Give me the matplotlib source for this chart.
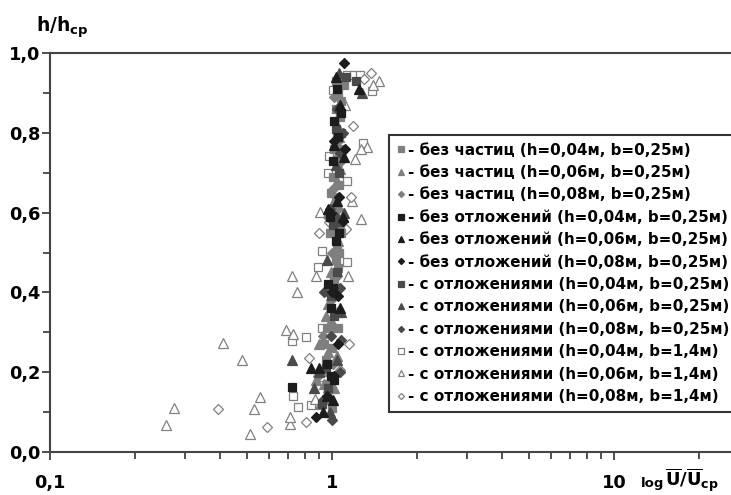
import matplotlib
matplotlib.use('Agg')
import matplotlib.pyplot as plt
from matplotlib.ticker import FixedLocator, FixedFormatter, NullFormatter

plt.rcParams['font.family'] = ['DejaVu Sans']
plt.rcParams['font.weight'] = 'bold'
plt.rcParams['mathtext.fontset'] = 'dejavusans'

# --- data: (U/Ucp, h/hcp) ---
# без частиц, b=0.25
bc04_x = [1.03, 1.07, 1.10, 1.05, 1.08, 1.03, 1.07, 1.04, 1.06, 1.02, 1.04, 1.01, 1.06, 0.99, 1.03, 1.02,
          0.98, 1.02, 1.08, 1.04, 1.06, 1.03, 1.05, 1.02, 0.98, 0.96, 1.00, 1.05, 0.94, 1.00, 0.95, 0.92,
          0.96, 1.00, 0.97]
bc04_y = [0.93, 0.93, 0.92, 0.90, 0.88, 0.86, 0.84, 0.80, 0.76, 0.76, 0.72, 0.69, 0.67, 0.65, 0.64, 0.60,
          0.55, 0.55, 0.55, 0.52, 0.50, 0.48, 0.46, 0.43, 0.40, 0.31, 0.31, 0.31, 0.27, 0.26, 0.23, 0.20,
          0.17, 0.11, 0.13]
bc06_x = [1.04, 1.06, 1.03, 1.07, 1.04, 1.00, 1.03, 1.07, 1.05, 0.99, 1.03, 0.97, 1.04, 0.95, 0.99, 0.90,
          0.97, 1.04, 0.88, 0.94, 1.02, 0.91]
bc06_y = [0.82, 0.79, 0.74, 0.71, 0.68, 0.62, 0.58, 0.57, 0.53, 0.45, 0.42, 0.37, 0.35, 0.34, 0.33, 0.27,
          0.25, 0.24, 0.18, 0.17, 0.16, 0.12]
bc08_x = [1.02, 1.05, 1.08, 1.01, 0.97, 1.05, 1.00, 1.04, 0.99, 0.93, 1.01, 0.89, 0.97]
bc08_y = [0.89, 0.78, 0.73, 0.66, 0.59, 0.61, 0.50, 0.44, 0.38, 0.29, 0.22, 0.19, 0.15]

# без отложений, b=0.25
bo04_x = [1.04, 1.08, 1.02, 1.05, 1.01, 0.98, 1.06, 1.03, 0.97, 1.01, 0.99, 0.72, 0.96, 0.99, 1.02]
bo04_y = [0.91, 0.85, 0.83, 0.79, 0.73, 0.59, 0.55, 0.53, 0.42, 0.41, 0.36, 0.164, 0.22, 0.19, 0.18]
bo06_x = [1.03, 1.25, 1.07, 1.02, 1.10, 0.97, 1.04, 1.09, 1.07, 0.84, 0.90, 0.96, 1.01, 0.93]
bo06_y = [0.94, 0.91, 0.87, 0.77, 0.74, 0.61, 0.63, 0.59, 0.36, 0.21, 0.21, 0.14, 0.13, 0.10]
bo08_x = [1.10, 1.02, 1.11, 1.06, 0.99, 1.09, 1.00, 1.05, 1.05, 1.02, 0.96, 0.88]
bo08_y = [0.974, 0.78, 0.76, 0.64, 0.60, 0.58, 0.40, 0.39, 0.27, 0.19, 0.14, 0.088]

# с отложениями, b=0.25
so04_x = [1.22, 1.12, 1.03, 1.08, 1.06, 1.01, 1.04, 0.99, 1.02, 0.95, 0.97, 0.92]
so04_y = [0.93, 0.94, 0.81, 0.80, 0.70, 0.57, 0.45, 0.39, 0.34, 0.21, 0.16, 0.12]
so06_x = [1.06, 1.28, 1.03, 1.05, 1.10, 0.96, 1.08, 0.72, 0.90, 1.04, 0.86, 0.98]
so06_y = [0.95, 0.90, 0.72, 0.58, 0.60, 0.48, 0.35, 0.23, 0.20, 0.23, 0.16, 0.10]
so08_x = [1.04, 1.09, 1.07, 0.98, 1.03, 0.94, 1.07, 0.99, 1.08, 1.07, 0.93, 1.00]
so08_y = [0.86, 0.80, 0.75, 0.61, 0.59, 0.40, 0.41, 0.29, 0.28, 0.20, 0.13, 0.08]

# с отложениями, b=1.4
sw04_x = [1.01, 1.13, 1.20, 1.26, 1.39, 0.975, 0.97, 1.29, 1.13, 0.92, 0.89, 1.13, 0.92, 0.72, 0.81,
          0.73, 0.84, 0.76, 0.93, 0.97]
sw04_y = [0.907, 0.945, 0.945, 0.945, 0.905, 0.742, 0.70, 0.774, 0.68, 0.504, 0.464, 0.477, 0.31, 0.278,
          0.289, 0.14, 0.118, 0.113, 0.189, 0.30]
sw06_x = [1.47, 1.40, 1.33, 1.27, 1.21, 1.27, 0.91, 0.88, 1.14, 0.72, 0.75, 0.686, 0.73, 0.41, 0.479,
          0.556, 0.275, 0.53, 0.258, 0.51, 0.71, 0.71, 0.87, 1.11, 1.18]
sw06_y = [0.93, 0.92, 0.765, 0.76, 0.734, 0.584, 0.602, 0.44, 0.44, 0.44, 0.40, 0.306, 0.296, 0.274,
          0.23, 0.138, 0.11, 0.108, 0.068, 0.045, 0.07, 0.088, 0.133, 0.87, 0.63]
sw08_x = [1.37, 1.30, 1.19, 1.17, 0.975, 1.12, 0.83, 1.07, 0.81, 0.394, 0.589, 1.15, 0.90]
sw08_y = [0.95, 0.935, 0.817, 0.639, 0.577, 0.56, 0.235, 0.205, 0.076, 0.108, 0.063, 0.27, 0.55]

labels = [
    '- без частиц (h=0,04м, b=0,25м)',
    '- без частиц (h=0,06м, b=0,25м)',
    '- без частиц (h=0,08м, b=0,25м)',
    '- без отложений (h=0,04м, b=0,25м)',
    '- без отложений (h=0,06м, b=0,25м)',
    '- без отложений (h=0,08м, b=0,25м)',
    '- с отложениями (h=0,04м, b=0,25м)',
    '- с отложениями (h=0,06м, b=0,25м)',
    '- с отложениями (h=0,08м, b=0,25м)',
    '- с отложениями (h=0,04м, b=1,4м)',
    '- с отложениями (h=0,06м, b=1,4м)',
    '- с отложениями (h=0,08м, b=1,4м)',
]

series = [(bc04_x, bc04_y), (bc06_x, bc06_y), (bc08_x, bc08_y),
          (bo04_x, bo04_y), (bo06_x, bo06_y), (bo08_x, bo08_y),
          (so04_x, so04_y), (so06_x, so06_y), (so08_x, so08_y),
          (sw04_x, sw04_y), (sw06_x, sw06_y), (sw08_x, sw08_y)]

markers = ['s', '^', 'D'] * 4
gray, black, dark = '#7f7f7f', '#1c1c1c', '#4a4a4a'
faces = [gray] * 3 + [black] * 3 + [dark] * 3 + ['white'] * 3
edges = [gray] * 3 + [black] * 3 + [dark] * 3 + ['#808080'] * 3
msizes = {'s': 6.0, '^': 6.6, 'D': 5.0}

fig = plt.figure(figsize=(7.31, 4.95), dpi=100)
ax = fig.add_axes([50 / 731, 1 - 452 / 495, 1 - 50 / 731, (452 - 53) / 495])

# open markers first, filled column on top
order = [9, 10, 11, 0, 1, 2, 6, 7, 8, 3, 4, 5]
handles = [None] * 12
for i in order:
    x, y = series[i]
    h, = ax.plot(x, y, linestyle='none', marker=markers[i], markersize=msizes[markers[i]],
                 markerfacecolor=faces[i], markeredgecolor=edges[i], markeredgewidth=0.9,
                 label=labels[i])
    handles[i] = h

ax.set_xscale('log')
ax.set_xlim(0.1, 26)
ax.set_ylim(0, 1.0)

ax.xaxis.set_major_locator(FixedLocator([0.1, 1, 10]))
ax.xaxis.set_major_formatter(FixedFormatter(['0,1', '1', '10']))
ax.xaxis.set_minor_locator(FixedLocator([k * 0.1 for k in range(2, 10)] + list(range(2, 10)) + [20]))
ax.xaxis.set_minor_formatter(NullFormatter())
ax.set_yticks([0, 0.2, 0.4, 0.6, 0.8, 1.0])
ax.set_yticklabels(['0,0', '0,2', '0,4', '0,6', '0,8', '1,0'])
ax.yaxis.set_minor_locator(FixedLocator([0.1, 0.3, 0.5, 0.7, 0.9]))

ax.tick_params(which='major', direction='out', length=6, width=1.2, color='#333333',
               labelsize=12.8)
ax.tick_params(which='minor', direction='out', length=5, width=1.2, color='#333333')
ax.tick_params(axis='y', which='major', pad=1)
ax.tick_params(axis='x', which='major', pad=10)
for lab in ax.get_xticklabels() + ax.get_yticklabels():
    lab.set_fontweight('bold')

for s in ['left', 'bottom', 'top']:
    ax.spines[s].set_color('#444444')
    ax.spines[s].set_linewidth(1.5)
ax.spines['right'].set_visible(False)

fig.text(36 / 731, 1 - 27 / 495, r'$\mathbf{h/h}_{\mathbf{cp}}$', fontsize=13.5,
         ha='left', va='center')
fig.text(641 / 731, 1 - 484 / 495, 'log', fontsize=9.5, fontweight='bold',
         ha='left', va='center')
fig.text(665 / 731, 1 - 480 / 495,
         r'$\overline{\mathbf{U}}\mathbf{/}\overline{\mathbf{U}}_{\mathbf{cp}}$',
         fontsize=13, ha='left', va='center')

leg = ax.legend(handles=handles, loc='upper left',
                bbox_to_anchor=(389 / 731, 1 - 135 / 495), bbox_transform=fig.transFigure,
                borderaxespad=0, frameon=True, fancybox=False,
                prop={'weight': 'bold', 'size': 10.9}, markerscale=0.62,
                handlelength=0.55, handletextpad=0.2, labelspacing=0.49,
                borderpad=0.5)
leg.get_frame().set_edgecolor('black')
leg.get_frame().set_linewidth(1.5)

fig.savefig('out.png', dpi=100)
